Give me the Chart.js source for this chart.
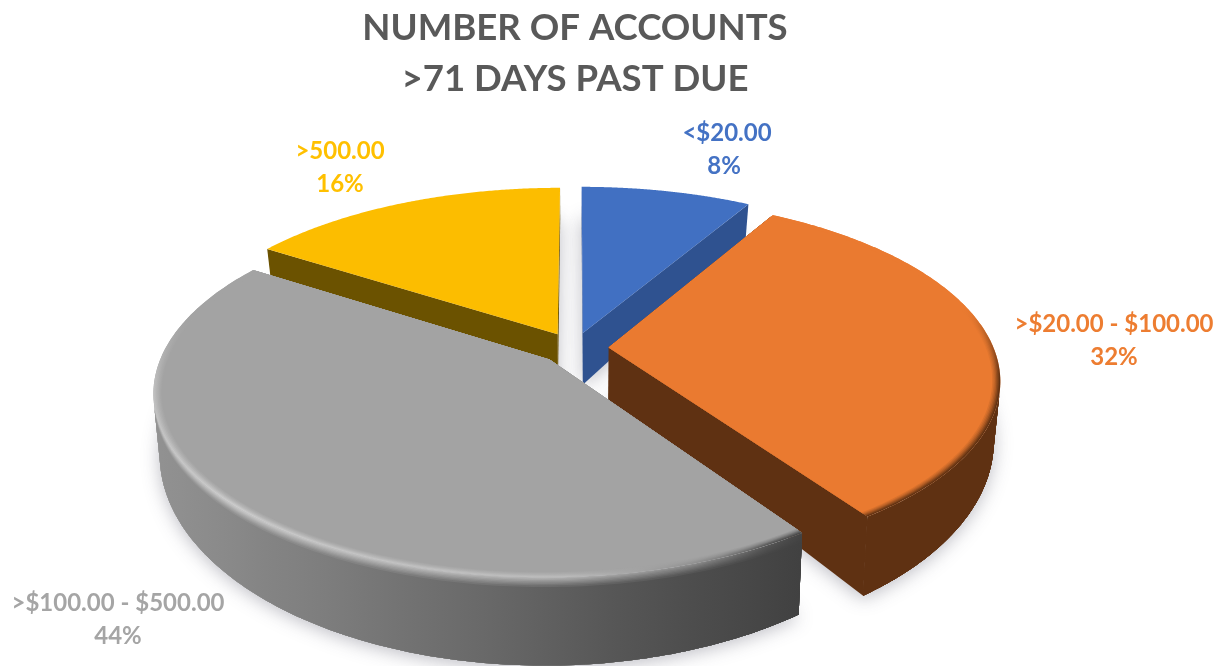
<!DOCTYPE html>
<html>
<head>
<meta charset="utf-8">
<style>
html, body { margin: 0; background: #fff; }
#wrap { width: 1214px; height: 666px; }
</style>
<script src="https://cdn.jsdelivr.net/npm/chart.js@4/dist/chart.umd.js"></script>
</head>
<body>
<div id="wrap"><canvas id="pie" width="1214" height="666"></canvas></div>
<script>
const categories = ['<$20.00', '>$20.00 - $100.00', '>$100.00 - $500.00', '>500.00']
// labels in the picture are rounded, the slice edges read a little off 8/32/44/16
const shares = [8.4, 32.05, 43.7, 15.85]
const titleLines = ['NUMBER OF ACCOUNTS', '>71 DAYS PAST DUE']

const textColors = ['#4472c4', '#ed7d31', '#a5a5a5', '#ffc000']
const labelCenters = [[727, 133], [1114, 324], [118, 603], [340, 151]]

// top colour, wall colours by screen x, rim colours by degrees clockwise from 12 o'clock
const faces = [
    { top: '#4170c2', wall: [[0, '#2f5290']], rim: [[0, '#4170c2'], [360, '#4170c2']] },
    { top: '#ea7a30', wall: [[0, '#5f3112']], rim: [[0, '#ea7a30'], [78, '#ea7a30'], [100, '#5f3112'], [360, '#5f3112']] },
    { top: '#a3a3a3', wall: [[155, '#929292'], [300, '#808080'], [500, '#676767'], [650, '#525252'], [800, '#414141']],
      rim: [[0, '#454545'], [148, '#454545'], [160, '#8f8f8f'], [178, '#bcbcbc'], [225, '#cccccc'], [262, '#bebebe'], [282, '#a3a3a3'], [360, '#a3a3a3']] },
    { top: '#fcbd00', wall: [[0, '#6b5200']], rim: [[0, '#fcbd00'], [360, '#fcbd00']] }
]

// camera: screen position of a pie point, x/y in pie radii, t from 0 (top) to 1 (bottom)
const view = { cx: 574, cy: 348, sx: 385, sy: 176, tilt: 0.172, depth: 54, depthFar: 17, shrink: 0.015, explode: 0.09 }
const rimWidth = 0.02

const project = (x, y, t) => {
    const w = 1 - view.tilt * y
    return [
        view.cx + view.sx * (1 - view.shrink * t) * x / w,
        view.cy + view.sy * y / w + t * (view.depth + view.depthFar * y) / w
    ]
}

const toRgb = (hex) => [1, 3, 5].map((i) => parseInt(hex.substr(i, 2), 16))
const mix = (c1, c2, f) => {
    const a = toRgb(c1), b = toRgb(c2)
    return '#' + a.map((v, i) => Math.round(v + (b[i] - v) * f).toString(16).padStart(2, '0')).join('')
}
const lookup = (keys, v) => {
    if (v <= keys[0][0]) return keys[0][1]
    for (let i = 1; i < keys.length; i++) {
        if (v <= keys[i][0]) {
            return mix(keys[i - 1][1], keys[i][1], (v - keys[i - 1][0]) / (keys[i][0] - keys[i - 1][0]))
        }
    }
    return keys[keys.length - 1][1]
}

const fillPoly = (ctx, pts, style) => {
    ctx.beginPath()
    pts.forEach((p, i) => i ? ctx.lineTo(p[0], p[1]) : ctx.moveTo(p[0], p[1]))
    ctx.closePath()
    ctx.fillStyle = style
    ctx.fill()
}

// slices come from the arcs the pie controller worked out
const sliceOf = (arc, i) => {
    const mid = (arc.startAngle + arc.endAngle) / 2
    return {
        start: arc.startAngle,
        end: arc.endAngle,
        ox: Math.cos(mid) * view.explode,
        oy: Math.sin(mid) * view.explode,
        face: faces[i]
    }
}

const onSlice = (s, a, r, t) => project(s.ox + r * Math.cos(a), s.oy + r * Math.sin(a), t)
const degOf = (a) => ((a + Math.PI / 2) * 180 / Math.PI + 360) % 360
const angleAt = (s, f) => s.start + (s.end - s.start) * f
const sector = (s, r, t, steps) => {
    const pts = [project(s.ox, s.oy, t)]
    for (let n = 0; n <= steps; n++) pts.push(onSlice(s, angleAt(s, n / steps), r, t))
    return pts
}

const drawShadow = (ctx, s) => {
    ctx.save()
    ctx.shadowColor = 'rgba(70,70,90,0.36)'
    ctx.shadowBlur = 18
    ctx.shadowOffsetY = 3
    fillPoly(ctx, sector(s, 1, 1, 60), '#e2e2e6')
    ctx.restore()
}

const drawCut = (ctx, s, angle, wantFront) => {
    const a0 = project(s.ox, s.oy, 0), a1 = project(s.ox, s.oy, 1)
    const r0 = onSlice(s, angle, 1, 0), r1 = onSlice(s, angle, 1, 1)
    const cross = (r0[0] - a0[0]) * (a1[1] - a0[1]) - (r0[1] - a0[1]) * (a1[0] - a0[0])
    if ((cross > 0) !== wantFront) return
    fillPoly(ctx, [a0, r0, r1, a1], lookup(s.face.wall, (r0[0] + a0[0]) / 2))
}

// part of the outer wall that faces the viewer
const visibleAngles = (s) => {
    const out = [], steps = 180
    for (let n = 0; n < steps; n++) {
        const a0 = angleAt(s, n / steps), a1 = angleAt(s, (n + 1) / steps)
        const p0 = onSlice(s, a0, 1, 0), p1 = onSlice(s, a1, 1, 0), d0 = onSlice(s, a0, 1, 1)
        if ((p1[0] - p0[0]) * (d0[1] - p0[1]) - (p1[1] - p0[1]) * (d0[0] - p0[0]) < 0) {
            if (!out.length) out.push(a0)
            out.push(a1)
        }
    }
    return out
}

const drawWall = (ctx, s) => {
    const angles = visibleAngles(s)
    if (!angles.length) return
    const xs = angles.map((a) => onSlice(s, a, 1, 0.5)[0])
    const left = Math.min(...xs), right = Math.max(...xs)
    const bands = [0, 0.015, 0.03, 0.045, 0.06, 0.075, 0.09, 0.11]
    bands.forEach((t, b) => {
        const grad = ctx.createLinearGradient(left, 0, right, 0)
        angles.forEach((a, i) => {
            if (i % 6) return
            const wall = lookup(s.face.wall, xs[i])
            grad.addColorStop((xs[i] - left) / (right - left), mix(lookup(s.face.rim, degOf(a)), wall, (b + 1) / bands.length))
        })
        const pts = angles.map((a) => onSlice(s, a, 1, t)).concat(angles.slice().reverse().map((a) => onSlice(s, a, 1, 1)))
        fillPoly(ctx, pts, grad)
    })
}

const drawTop = (ctx, s) => {
    const steps = 150
    fillPoly(ctx, sector(s, 1, 0, steps), s.face.top)
    const plain = s.face.rim.every((k) => k[1] === s.face.top)
    if (plain) return
    // rim colour follows the angle around the slice tip, inner sectors paint over the outer ones
    const tip = project(s.ox, s.oy, 0)
    const screenAngle = (a) => {
        const p = onSlice(s, a, 1, 0)
        return Math.atan2(p[1] - tip[1], p[0] - tip[0])
    }
    const from = screenAngle(s.start)
    const rings = [1, 0.82, 0.62, 0.42, 0.26, 0.12]
    rings.forEach((strength, i) => {
        const grad = ctx.createConicGradient(from, tip[0], tip[1])
        for (let n = 0; n <= 40; n++) {
            const a = angleAt(s, n / 40)
            const off = ((screenAngle(a) - from) % (2 * Math.PI) + 2 * Math.PI) % (2 * Math.PI)
            grad.addColorStop(n ? off / (2 * Math.PI) : 0, mix(s.face.top, lookup(s.face.rim, degOf(a)), strength))
        }
        fillPoly(ctx, sector(s, 1 - rimWidth * i / rings.length, 0, steps), grad)
    })
    fillPoly(ctx, sector(s, 1 - rimWidth, 0, steps), s.face.top)
}

const pie3d = {
    id: 'pie3d',
    beforeDatasetDraw(chart, args) {
        const ctx = chart.ctx
        const slices = args.meta.data.map(sliceOf)
        const ordered = slices.slice().sort((p, q) => p.oy - q.oy)
        ctx.save()
        slices.forEach((s) => drawShadow(ctx, s))
        ordered.forEach((s) => {
            drawCut(ctx, s, s.start, false)
            drawCut(ctx, s, s.end, true)
            drawWall(ctx, s)
            drawTop(ctx, s)
        })
        ctx.restore()
        return false
    },
    afterDraw(chart) {
        const ctx = chart.ctx
        const total = shares.reduce((p, c) => p + c, 0)
        ctx.save()
        ctx.font = '700 24px Lato'
        ctx.textAlign = 'center'
        ctx.textBaseline = 'middle'
        categories.forEach((name, i) => {
            ctx.fillStyle = textColors[i]
            ctx.fillText(name, labelCenters[i][0], labelCenters[i][1])
            ctx.fillText(Math.round(shares[i] / total * 100) + '%', labelCenters[i][0] - (i === 0 ? 3 : 0), labelCenters[i][1] + 33)
        })
        ctx.restore()
    }
}

new Chart(document.getElementById('pie'), {
    type: 'pie',
    data: {
        labels: categories,
        datasets: [{ data: shares, backgroundColor: faces.map((f) => f.top) }]
    },
    options: {
        responsive: false,
        animation: false,
        layout: { padding: { top: 3, right: 64 } },
        plugins: {
            legend: { display: false },
            tooltip: { enabled: false },
            title: {
                display: true,
                text: titleLines,
                color: '#595959',
                font: { family: 'Lato', size: 36.6, weight: '700', lineHeight: 1.38 },
                padding: { top: 0, bottom: 4 }
            }
        }
    },
    plugins: [pie3d]
})
</script>
</body>
</html>
